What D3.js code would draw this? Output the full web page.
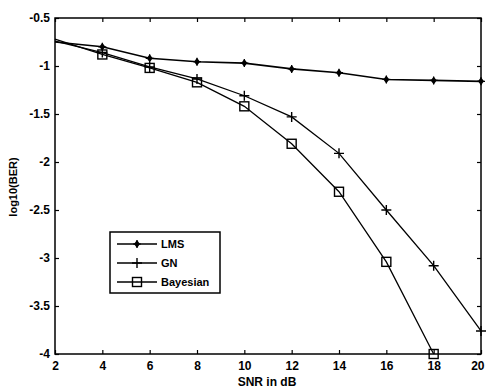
<!DOCTYPE html>
<meta charset="utf-8">
<script src="https://d3js.org/d3.v7.min.js"></script>
<style>
  body { margin: 0; background: #fff; }
  text { font-family: "Liberation Sans", Arial, sans-serif; font-weight: bold; fill: #000; }
</style>
<div id="chart"></div>
<script>
// data
var snr = [2, 4, 6, 8, 10, 12, 14, 16, 18, 20];
var lms = [-0.75, -0.80, -0.92, -0.955, -0.97, -1.03, -1.07, -1.14, -1.15, -1.16];
var gn = [-0.74, -0.86, -1.01, -1.135, -1.31, -1.53, -1.91, -2.5, -3.08, -3.76];
var bayesian = [-0.72, -0.88, -1.02, -1.17, -1.42, -1.81, -2.31, -3.04, -4.0];
var xTicks = [2, 4, 6, 8, 10, 12, 14, 16, 18, 20];
var yTicks = [-0.5, -1, -1.5, -2, -2.5, -3, -3.5, -4];
var names = ["LMS", "GN", "Bayesian"];

var margin = {top: 18, right: 5, bottom: 35, left: 55},
    width = 486 - margin.left - margin.right,
    height = 389 - margin.top - margin.bottom;

var svg = d3.select("#chart").append("svg")
    .attr("width", 486).attr("height", 389)
  .append("g")
    .attr("transform", "translate(" + margin.left + "," + margin.top + ")");

var x = d3.scaleLinear().domain([2, 20]).range([0, width]);
var y = d3.scaleLinear().domain([-4, -0.5]).range([height, 0]);

// axes with inner ticks (matlab style)
var xAx = svg.append("g")
    .attr("transform", "translate(0," + height + ")")
    .call(d3.axisBottom(x).tickValues(xTicks).tickSize(-4).tickPadding(7).tickFormat(d3.format("d")))
    .call(g => g.select(".domain").remove());
xAx.selectAll("text").style("font-size", "12px").style("font-family", null);
// last label sits against the right edge
xAx.selectAll(".tick").filter(d => d === 20).select("text").attr("text-anchor", "end").attr("dx", "0.25em");

svg.append("g")
    .call(d3.axisLeft(y).tickValues(yTicks).tickSize(-4).tickPadding(5).tickFormat(d => d))
    .call(g => g.select(".domain").remove())
    .selectAll("text").style("font-size", "12px").style("font-family", null);
svg.append("g")
    .call(d3.axisTop(x).tickValues(xTicks).tickSize(-4).tickFormat(""))
    .call(g => g.select(".domain").remove());
svg.append("g")
    .attr("transform", "translate(" + width + ",0)")
    .call(d3.axisRight(y).tickValues(yTicks).tickSize(-4).tickFormat(""))
    .call(g => g.select(".domain").remove());
svg.selectAll(".tick line").attr("stroke", "#000").attr("stroke-width", 1.2);

svg.append("rect")
    .attr("width", width).attr("height", height)
    .attr("fill", "none").attr("stroke", "#000").attr("stroke-width", 1.5);

// labels
svg.append("text")
    .attr("text-anchor", "middle")
    .attr("x", width / 2 - 1)
    .attr("y", height + 32)
    .style("font-size", "12px")
    .text("SNR in dB");
svg.append("text")
    .attr("text-anchor", "middle")
    .attr("transform", "rotate(-90)")
    .attr("x", -(187 - margin.top))
    .attr("y", -margin.left + 17)
    .style("font-size", "11px")
    .text("log10(BER)");

var line = d3.line().x(d => x(d[0])).y(d => y(d[1]));

function markerLMS(g) {
  g.append("path").attr("d", "M0,-4L3,0L0,4L-3,0Z").attr("fill", "#000");
  g.append("path").attr("d", "M-4,0H4M0,-4V4").attr("stroke", "#000").attr("stroke-width", 1.2);
}
function markerGN(g) {
  g.append("path").attr("d", "M-5,0H5M0,-5V5").attr("stroke", "#000").attr("stroke-width", 1.4);
}
function markerBayes(g) {
  g.append("rect").attr("x", -4.5).attr("y", -4.5).attr("width", 9).attr("height", 9)
    .attr("fill", "none").attr("stroke", "#000").attr("stroke-width", 1.4);
}

var series = [
  {vals: lms, marker: markerLMS, w: 1.6},
  {vals: gn, marker: markerGN, w: 1.3},
  {vals: bayesian, marker: markerBayes, w: 1.3}
];

series.forEach(function(s) {
  var pts = s.vals.map((v, i) => [snr[i], v]);
  svg.append("path")
      .datum(pts)
      .attr("fill", "none")
      .attr("stroke", "#000")
      .attr("stroke-width", s.w)
      .attr("d", line);
  pts.forEach(function(p, i) {
    if (i === 0) return;
    var g = svg.append("g").attr("transform", "translate(" + x(p[0]) + "," + y(p[1]) + ")");
    s.marker(g);
  });
});

// legend
var leg = svg.append("g").attr("transform", "translate(" + (110 - margin.left) + "," + (232 - margin.top) + ")");
leg.append("rect").attr("width", 110).attr("height", 61)
    .attr("fill", "#fff").attr("stroke", "#000").attr("stroke-width", 1.5);
series.forEach(function(s, i) {
  var yy = 12 + i * 19;
  leg.append("line").attr("x1", 7).attr("x2", 47).attr("y1", yy).attr("y2", yy)
      .attr("stroke", "#000").attr("stroke-width", 1.3);
  s.marker(leg.append("g").attr("transform", "translate(27," + yy + ")"));
  leg.append("text").attr("x", 51).attr("y", yy + 4)
      .style("font-size", "11px").text(names[i]);
});
</script>
